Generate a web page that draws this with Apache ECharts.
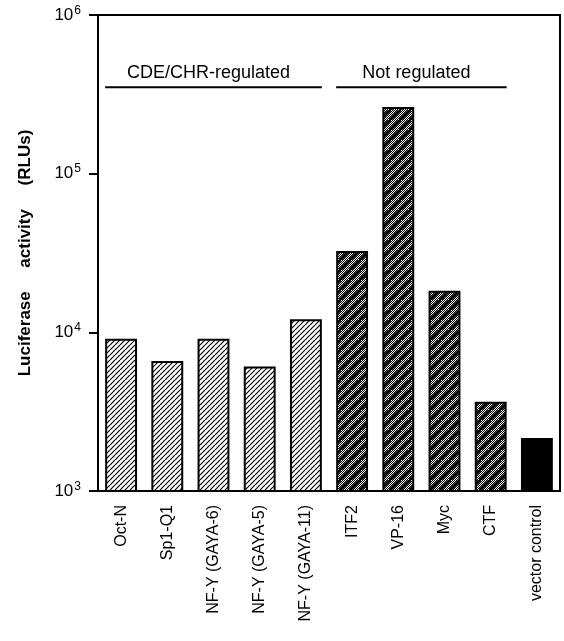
<!DOCTYPE html>
<html><head><meta charset="utf-8">
<script src="https://cdn.jsdelivr.net/npm/echarts@6/dist/echarts.min.js"></script>
<style>html,body{margin:0;padding:0;background:#fff}#c{width:564px;height:641px}</style>
</head><body><div id="c"></div>
<script>
const categories = ['Oct-N','Sp1-Q1','NF-Y (GAYA-6)','NF-Y (GAYA-5)','NF-Y (GAYA-11)','ITF2','VP-16','Myc','CTF','vector control'];
const values = [9100, 6600, 9100, 6100, 12100, 32500, 263000, 18300, 3650, 2160];
const fills = ['light','light','light','light','light','dark','dark','dark','dark','solid'];
const groups = [
  {label:'CDE/CHR-regulated', from:0, to:4},
  {label:'Not regulated', from:5, to:8}
];
const yTicks = [1e3, 1e4, 1e5, 1e6];

const FONT = "'Liberation Sans', Arial, Helvetica, sans-serif";

function hatch(size, lineW, checker){
  const c = document.createElement('canvas');
  c.width = c.height = size;
  const g = c.getContext('2d');
  g.fillStyle = '#fff'; g.fillRect(0,0,size,size);
  if (checker){
    g.fillStyle = '#000';
    for (let x=0;x<size;x++) for (let y=0;y<size;y++) if ((x+y)%2===0) g.fillRect(x,y,1,1);
  }
  g.strokeStyle = '#000'; g.lineWidth = lineW;
  g.beginPath();
  for (let k=-1;k<=1;k++){ g.moveTo(k*size, size); g.lineTo(k*size+size, 0); }
  g.stroke();
  return c;
}
const patterns = {
  light: {image: hatch(5, 1.2, false), repeat: 'repeat'},
  dark: {image: hatch(10, 3.2, true), repeat: 'repeat'},
  solid: '#000'
};

const chart = echarts.init(document.getElementById('c'), null, {renderer:'canvas'});
chart.setOption({
  animation: false,
  backgroundColor: '#fff',
  grid: {left: 98, right: 4, top: 15, bottom: 150, show: true, borderColor: '#000', borderWidth: 2, containLabel: false},
  xAxis: {
    type: 'category', data: categories, boundaryGap: true,
    axisLine: {lineStyle: {color: '#000', width: 2}},
    axisTick: {alignWithLabel: true, length: 9, lineStyle: {color:'#000', width: 2}},
    axisLabel: {rotate: 90, color: '#000', fontSize: 16, fontFamily: FONT, margin: 14, interval: 0}
  },
  yAxis: {
    type: 'log', logBase: 10, min: yTicks[0], max: yTicks[yTicks.length-1],
    name: 'Luciferase     activity     (RLUs)', nameLocation: 'middle', nameGap: 64,
    nameTextStyle: {fontSize: 17, fontWeight: 'bold', color: '#000', fontFamily: FONT},
    axisLine: {show: true, lineStyle: {color: '#000', width: 2}},
    axisTick: {show: true, length: 9, lineStyle: {color:'#000', width: 2}},
    splitLine: {show: false},
    minorTick: {show: false},
    axisLabel: {
      margin: 17, color: '#000', fontFamily: FONT, fontSize: 17,
      formatter: v => '{b|10}{s|' + Math.round(Math.log10(v)) + '}',
      rich: {
        b: {fontSize: 17, fontFamily: FONT, color:'#000'},
        s: {fontSize: 12, fontFamily: FONT, color:'#000', verticalAlign: 'top', padding: [0,0,9,1]}
      }
    }
  },
  series: [{
    type: 'bar',
    barCategoryGap: '31%',
    data: values.map((v,i) => ({value: v, itemStyle: {color: patterns[fills[i]], borderColor: '#000', borderWidth: 2}}))
  }]
});

function drawGroups(){
  const band = chart.convertToPixel({xAxisIndex:0}, 1) - chart.convertToPixel({xAxisIndex:0}, 0);
  const half = band * 0.69 / 2;
  const lineY = chart.convertToPixel({yAxisIndex:0}, 3.5e5);
  const textY = chart.convertToPixel({yAxisIndex:0}, 4.3e5);
  const els = [];
  groups.forEach(gr => {
    const x1 = chart.convertToPixel({xAxisIndex:0}, gr.from) - half;
    const x2 = chart.convertToPixel({xAxisIndex:0}, gr.to) + half;
    els.push({type:'line', shape:{x1:x1, y1:lineY, x2:x2, y2:lineY}, style:{stroke:'#000', lineWidth:2}});
    els.push({type:'text', x:(x1+x2)/2 - 5, y:textY, style:{text: gr.label, fill:'#000', font: '18px ' + FONT, textAlign:'center', textVerticalAlign:'middle'}});
  });
  chart.setOption({graphic: els});
}
drawGroups();
</script></body></html>
